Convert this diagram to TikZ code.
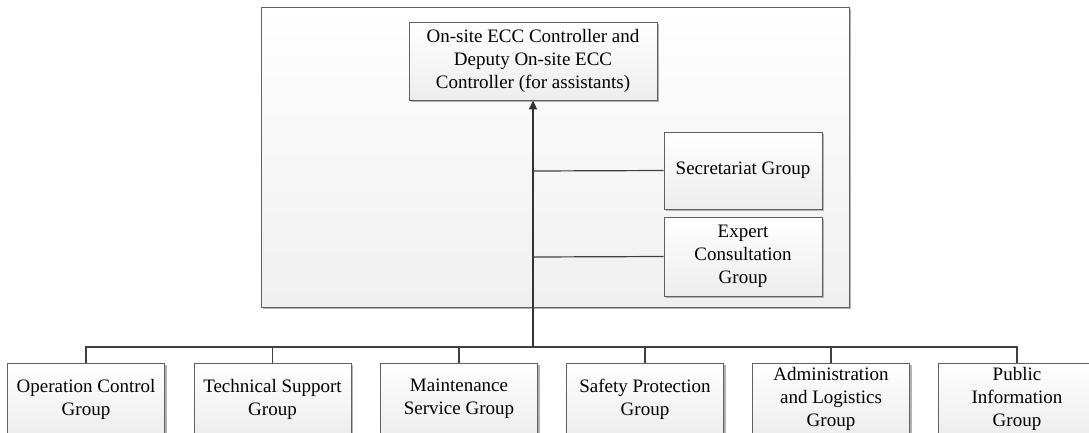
\documentclass[tikz,border=0pt]{standalone}
\usepackage{fontspec}
\setmainfont{Liberation Serif}
\usetikzlibrary{shadows,arrows.meta}
\begin{document}
\begin{tikzpicture}[x=1pt,y=-1pt,
  box/.style={draw=black!62, line width=0.9pt, top color=white, bottom color=black!7,
    drop shadow={shadow xshift=2pt,shadow yshift=-2pt,fill=black!30,opacity=1},
    align=center, inner sep=0pt, font=\fontsize{19}{23}\selectfont},
  container/.style={draw=black!62, line width=0.9pt, top color=white, bottom color=black!6,
    drop shadow={shadow xshift=2pt,shadow yshift=-2pt,fill=black!30,opacity=1},
    inner sep=0pt},
  conn/.style={draw=black!75, line width=1.2pt},
  mainconn/.style={draw=black!80, line width=2pt},
]
\useasboundingbox (0,0) rectangle (1089,432);
\clip (0,0) rectangle (1089,432);
\fill[white] (0,0) rectangle (1089,432);

\node[container, minimum width=588pt, minimum height=300pt] (cont) at (555,157) {};

\node[box, minimum width=248pt, minimum height=78pt] (top) at (533,61)
  {On-site ECC Controller and\\Deputy On-site ECC\\Controller (for assistants)};
\node[box, minimum width=158pt, minimum height=77pt] (sec) at (743,170.5) {Secretariat Group};
\node[box, minimum width=158pt, minimum height=79pt] (exp) at (743,256.5) {Expert\\Consultation\\Group};

\node[box, minimum width=157pt, minimum height=72pt] (g1) at (86,399) {Operation Control\\Group};
\node[box, minimum width=157pt, minimum height=72pt] (g2) at (272.5,399) {Technical Support\\Group};
\node[box, minimum width=157pt, minimum height=72pt] (g3) at (459,399) {Maintenance\\Service Group};
\node[box, minimum width=157pt, minimum height=72pt] (g4) at (645,399) {Safety Protection\\Group};
\node[box, minimum width=157pt, minimum height=72pt] (g5) at (831,399) {Administration\\and Logistics\\Group};
\node[box, minimum width=157pt, minimum height=72pt] (g6) at (1017,399) {Public\\Information\\Group};

\coordinate (hub) at (533,347);
\coordinate (b1) at (533,171);
\coordinate (b2) at (533,257);

\draw[conn] (b1) -- (sec.west);
\draw[conn] (b2) -- (exp.west);
\draw[conn] (g1.north) |- (hub) -| (g6.north);
\foreach \g in {g2,g3,g4,g5} \draw[conn] (\g.north) -- (\g.north |- hub);
\draw[mainconn, -{Triangle[length=9pt,width=8pt]}] (hub) -- (top.south);
\end{tikzpicture}
\end{document}
